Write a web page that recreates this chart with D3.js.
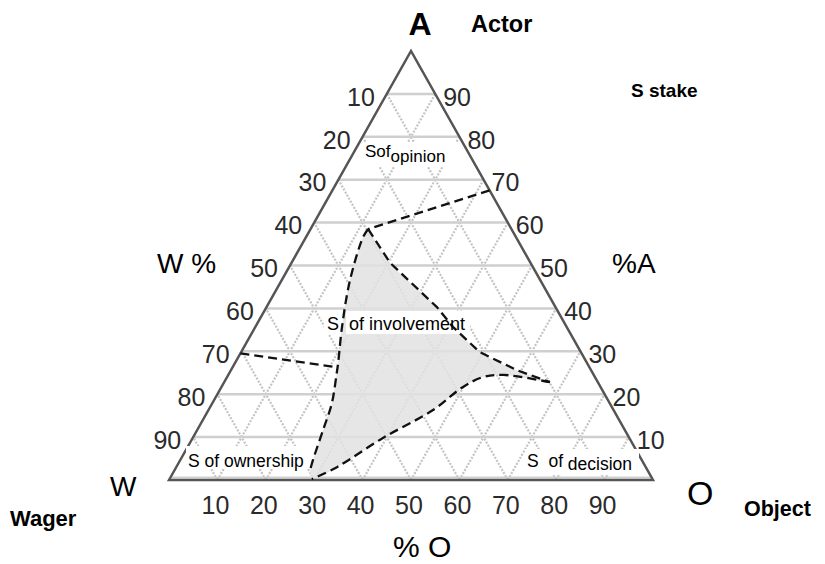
<!DOCTYPE html>
<html>
<head>
<meta charset="utf-8">
<script src="https://cdn.jsdelivr.net/npm/d3@7"></script>
<style>
  body { margin: 0; background: #fff; }
  svg { font-family: "Liberation Sans", Arial, sans-serif; }
</style>
</head>
<body>
<div id="chart"></div>
<script>
// ternary points are [A %, O %]  (W = 100 - A - O)
const ticks = [10, 20, 30, 40, 50, 60, 70, 80, 90];
const opinionLine = [[67.5, 32.5], [58.5, 11.9]];
const involvementTop = [[58.5, 11.9], [50.6, 20.4], [40.3, 35.2], [35.7, 40.8], [29.8, 49.3], [25.6, 59.1], [22.8, 67.3]];
const decisionCurve = [[22.8, 67.3], [24.5, 56.8], [24.0, 52.9], [21.7, 49.9], [16.3, 46.4], [9.8, 39.3], [3.0, 33.2], [0.2, 29.4]];
const ownershipCurve = [[58.5, 11.9], [56.6, 11.8], [46.6, 14.1], [35.7, 17.9], [27.3, 21.3], [24.9, 22.2], [17.9, 24.7], [11.7, 26.0], [4.7, 27.4], [2.3, 28.0]];
const wagerLine = [[29.5, 0], [26.3, 21.3]];

const width = 825;
const height = 564;

const svg = d3.select('#chart')
    .append('svg')
    .attr('width', width)
    .attr('height', height);

// base runs W (left) -> O (right), apex is A
const x = d3.scaleLinear().domain([0, 100]).range([169, 653]);
const y = d3.scaleLinear().domain([0, 100]).range([480, 51]);
const px = d => [x(d[1] + d[0] / 2), y(d[0])];

const line = d3.line().x(d => px(d)[0]).y(d => px(d)[1]);
const smooth = d3.line().x(d => px(d)[0]).y(d => px(d)[1]).curve(d3.curveCatmullRom);

// grid
const grid = svg.append('g');
ticks.forEach(k => {
    grid.append('path')   // constant O
        .attr('d', line([[0, k], [100 - k, k]]))
        .attr('stroke', '#c4c4c4').attr('stroke-width', 2.2)
        .attr('stroke-dasharray', '2,1.5').attr('fill', 'none');
    grid.append('path')   // constant W
        .attr('d', line([[0, 100 - k], [100 - k, 0]]))
        .attr('stroke', '#c4c4c4').attr('stroke-width', 2.2)
        .attr('stroke-dasharray', '2,1.5').attr('fill', 'none');
});
ticks.forEach(k => {
    grid.append('path')   // constant A
        .attr('d', line([[k, 0], [k, 100 - k]]))
        .attr('stroke', '#cfcfcf').attr('stroke-width', 2.5).attr('fill', 'none');
});
grid.append('path')
    .attr('d', line([[0.6, 0.3], [0.6, 99.1]]))
    .attr('stroke', '#cfcfcf').attr('stroke-width', 2).attr('fill', 'none');

// shaded involvement zone
const zone = involvementTop.slice(0, -1)
    .concat(decisionCurve, ownershipCurve.slice().reverse());
svg.append('path')
    .attr('d', smooth(zone) + 'Z')
    .attr('fill', '#e2e2e2')
    .attr('fill-opacity', 0.85);

// triangle outline
svg.append('path')
    .attr('d', line([[0, 0], [100, 0], [0, 100], [0, 0]]) + 'Z')
    .attr('fill', 'none')
    .attr('stroke', '#555')
    .attr('stroke-width', 2.5)
    .attr('stroke-linejoin', 'miter');

// tick labels
const tickFont = 25;
svg.append('g').selectAll('text')
    .data(ticks).enter().append('text')
    .attr('x', d => px([d, 0])[0] - 12)
    .attr('y', d => px([d, 0])[1] + 3)
    .attr('dy', '0.35em')
    .attr('text-anchor', 'end')
    .attr('font-size', tickFont)
    .attr('fill', '#2a2a2a')
    .text(d => 100 - d);

svg.append('g').selectAll('text')
    .data(ticks).enter().append('text')
    .attr('x', d => px([d, 100 - d])[0] + 8)
    .attr('y', d => px([d, 100 - d])[1] + 3)
    .attr('dy', '0.35em')
    .attr('text-anchor', 'start')
    .attr('font-size', tickFont)
    .attr('fill', '#2a2a2a')
    .text(d => d);

svg.append('g').selectAll('text')
    .data(ticks).enter().append('text')
    .attr('x', d => px([0, d])[0] - 2)
    .attr('y', 514)
    .attr('text-anchor', 'middle')
    .attr('font-size', tickFont)
    .attr('fill', '#2a2a2a')
    .text(d => d);

// zone labels with white backing
function label(tx, ty, parts, size) {
    const t = svg.append('text').attr('x', tx).attr('y', ty).attr('font-size', size).attr('fill', '#000');
    parts.forEach(p => {
        t.append('tspan').attr('dy', p.dy || 0).text(p.s);
    });
}
function backing(x0, y0, w, h) {
    svg.append('rect').attr('x', x0).attr('y', y0).attr('width', w).attr('height', h).attr('fill', '#fff');
}
backing(346, 311, 124, 23);
backing(324, 311, 14, 23);
backing(186, 446, 122, 23);
backing(525, 449, 114, 25);
backing(363, 142, 94, 25);

// dashed boundaries
const dashed = svg.append('g')
    .attr('fill', 'none')
    .attr('stroke', '#111')
    .attr('stroke-width', 2.3)
    .attr('stroke-dasharray', '9,5');
dashed.append('path').attr('d', line(opinionLine));
dashed.append('path').attr('d', line(involvementTop));
dashed.append('path').attr('d', smooth(decisionCurve));
dashed.append('path').attr('d', smooth(ownershipCurve));
dashed.append('path').attr('d', line(wagerLine));

label(365, 157, [{ s: 'Sof' }, { s: 'opinion', dy: 5 }], 17);
label(327, 330, [{ s: 'S' }, { s: '\u00a0\u00a0of involvement' }], 18);
label(188, 467, [{ s: 'S of ownership' }], 17.5);
label(527, 467, [{ s: 'S\u00a0\u00a0of' }, { s: ' decision', dy: 3 }], 17.5);

// axis titles
const titles = [
    { s: 'A', x: 420, y: 35, size: 32, bold: true, anchor: 'middle' },
    { s: 'Actor', x: 471, y: 32, size: 23.5, bold: true },
    { s: 'S stake', x: 631, y: 97, size: 19, bold: true },
    { s: 'W %', x: 157, y: 273, size: 28 },
    { s: '%A', x: 612, y: 273, size: 28 },
    { s: 'W', x: 110, y: 496, size: 28 },
    { s: 'Wager', x: 10, y: 526, size: 22, bold: true },
    { s: 'O', x: 687, y: 505, size: 34 },
    { s: 'Object', x: 744, y: 516, size: 21.5, bold: true },
    { s: '% O', x: 393, y: 557, size: 30 }
];
svg.append('g').selectAll('text')
    .data(titles).enter().append('text')
    .attr('x', d => d.x)
    .attr('y', d => d.y)
    .attr('text-anchor', d => d.anchor || 'start')
    .attr('font-size', d => d.size)
    .attr('font-weight', d => d.bold ? 'bold' : 'normal')
    .attr('fill', '#000')
    .text(d => d.s);
</script>
</body>
</html>
